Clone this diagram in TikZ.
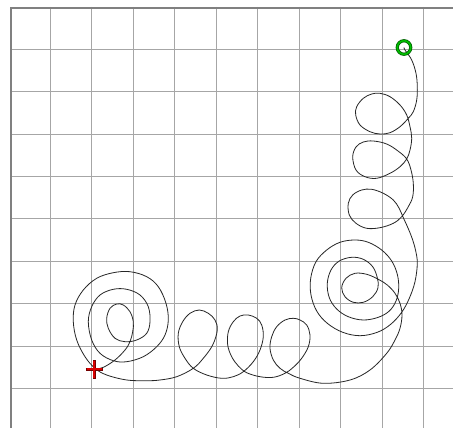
\documentclass[tikz,border=0pt]{standalone}
\usetikzlibrary{positioning}
\begin{document}
\begin{tikzpicture}[
    x=1pt, y=-1pt,
    gridline/.style={draw=gray!70, line width=1.2pt},
    frameline/.style={draw=gray, line width=2pt},
    penline/.style={draw=black!85, line width=0.8pt, line join=round},
    startmark/.style={circle, draw=green!40!black, line width=3.2pt, minimum size=13.5pt, inner sep=0pt},
    startring/.style={circle, draw=green!75!black, line width=1.5pt, minimum size=13.5pt, inner sep=0pt},
    endmark/.style={draw=red!45!black, line width=3.4pt},
    endcross/.style={draw=red!85!black, line width=1.8pt},
  ]
  \useasboundingbox[fill=white] (0,0) rectangle (453,428);
  % grid
  \foreach \gx in {50.5,91.5,133.5,174.5,216.5,257.5,299.5,340.5,382.5,423.5}
    \draw[gridline] (\gx,7) -- (\gx,428);
  \foreach \gy in {49.5,91.5,134.5,176.5,218.5,261.5,303.5,346.5,388.5}
    \draw[gridline] (10,\gy) -- (453,\gy);
  \draw[frameline] (11,428) -- (11,8) -- (453,8);
  % pen trace
  \draw[penline] plot[smooth, tension=0.6] coordinates {
    (404,47.5) (405,50) (411.7,60) (416,73.3) (417.3,86.7) (416.7,100) (413.3,111.7)
    (408.3,118.3) (400,126.7) (390,132.7) (380,134) (370,131.7) (360,125) (355.7,115)
    (356.7,106.7) (363.3,98.3) (371.7,94) (380,93.3) (390,96.7) (400,105) (406.7,115)
    (410,126.7) (411.7,138.3) (410,150) (406.7,159) (400,166.7) (390,173.3) (376.7,178.3)
    (365,176.7) (356,170) (352.7,157) (356,147) (363.3,142) (373.3,141) (386.7,144)
    (398,151) (406.7,159) (411,170) (413.3,183.3) (412.7,196.7) (408.3,206.7) (401.7,216.7)
    (393.3,223.3) (380,227.7) (366.7,228.3) (356,223.3) (349.3,215) (348.3,203.3)
    (352.7,195) (361.7,190) (371.7,189.3) (383.3,193.3) (393.3,200) (399,208) (403,217)
    (408,228) (412,238) (415.5,250) (417.3,263.3) (415,281.7) (409.3,298.3) (401.7,312.3)
    (390.7,324.3) (377.3,332.3) (360,335.7) (342.7,332.3) (327.3,323.3) (316.7,311)
    (311,295) (310.7,278.3) (316,261.7) (326.7,250) (340,242.3) (355,240) (368.3,242.3)
    (381.7,250) (391.7,261) (397.3,274.3) (398.7,288.3) (396,301) (389.3,311) (378.3,317.3)
    (363.3,320) (348.3,316.7) (336.7,309) (329.3,297.7) (327.3,283.3) (331,270) (339.3,261)
    (351.7,257.3) (363.3,259.3) (372.7,266.7) (377.3,277.7) (378,287.7) (372.7,296.7)
    (363.3,302.3) (353.3,302.3) (345,296.7) (341.7,287.7) (346,278.3) (355,273.3)
    (366.7,274.3) (378.3,279.3) (387.3,285) (395,293.3) (400,303.3) (402,315) (400,328.3)
    (395,340) (386.7,353.3) (370,370) (350,380) (323.3,383.3) (300,378.3) (288.3,373.3)
    (280,368.3) (273.3,360) (270,348.3) (271.7,336.7) (276.7,326.7) (285,320) (293.3,318.3)
    (300,320) (306.7,325) (310,335) (308.3,346.7) (301.7,358.3) (293.3,367.3) (285,373.3)
    (273.3,377.3) (260,376.7) (246.7,372.7) (238.3,366) (231.7,356.7) (227.7,345)
    (228.3,331.7) (233.3,321.7) (240,316) (248.3,315) (256.7,318.3) (261.7,325) (263.3,336.7)
    (260,350) (253.3,361.7) (243.3,371.7) (233.3,376.7) (221.7,378.3) (206.7,375)
    (193.3,368.3) (185,358.3) (179.3,346.7) (178.3,333.3) (182.7,321.7) (190,313.3)
    (199.3,310) (208.3,313.3) (215,320) (217.3,330) (212.7,345) (203.3,358.3) (193.3,368.3)
    (176.7,376.7) (160,380) (146.7,380.7) (126.7,380) (106.7,375) (95,368.3) (85,356.7)
    (76.7,340) (73.3,321.7) (75,305) (83.3,290) (96.7,278.3) (113.3,272.7) (130,271.7)
    (146.7,276.7) (158.3,286.7) (166,303.3) (168.3,320) (165,335) (156.7,346.7)
    (143.3,356.7) (126.7,361.7) (113.3,360.7) (100,353.3) (91.7,340) (88.3,321.7)
    (91.7,306.7) (100,295) (113.3,289.3) (126.7,289.3) (140,295) (148.3,306.7) (150,321.7)
    (146.7,333.3) (136.7,340) (125,341.7) (115,338.3) (108.3,328.3) (106.7,318.3)
    (110,308.3) (116.7,304) (123.3,305) (130,311.7) (133.3,321.7) (132.7,331.7)
    (130,341.7) (125,350) (115,360) (103.3,367.3) (94.3,369.3)
  };
  % markers
  \node[startmark] (start) at (404,47.5) {};
  \node[startring] (startinner) at (start.center) {};
  \coordinate (finish) at (94.3,369.3);
  \draw[endmark] ([xshift=-8.5pt]finish) -- ([xshift=8.5pt]finish)
                 ([yshift=-9.5pt]finish) -- ([yshift=9.5pt]finish);
  \draw[endcross] ([xshift=-7.5pt]finish) -- ([xshift=7.5pt]finish)
                  ([yshift=-8.5pt]finish) -- ([yshift=8.5pt]finish);
\end{tikzpicture}
\end{document}
